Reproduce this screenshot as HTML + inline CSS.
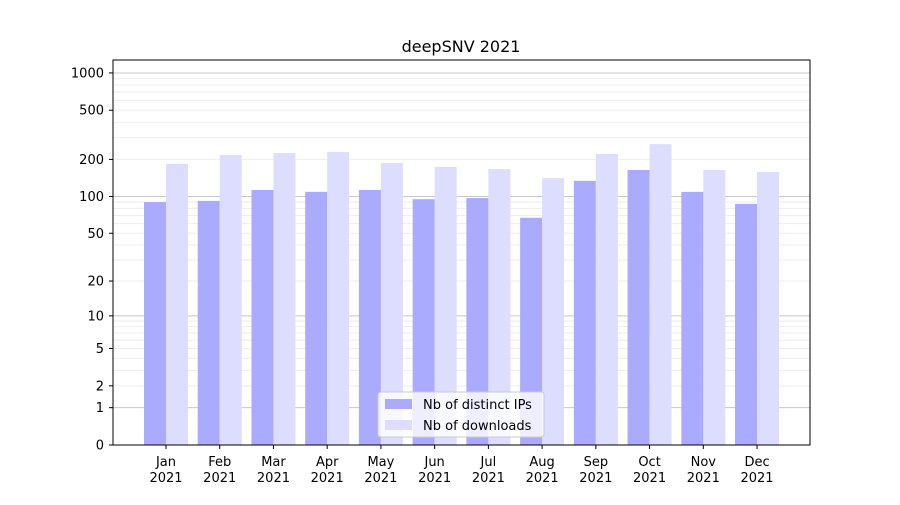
<!DOCTYPE html>
<html><head><meta charset="utf-8"><style>
body{margin:0;background:#fff;}
svg text{font-family:"DejaVu Sans","Liberation Sans",sans-serif;}
</style></head><body>
<svg id="chart" width="900" height="500" xmlns="http://www.w3.org/2000/svg">
<rect width="900" height="500" fill="#fff"/>
<g id="grid"></g>
<g id="bars"></g>
<rect x="113" y="60" width="697" height="385" fill="none" stroke="#000" stroke-width="1"/>
<g id="axes"></g>
<text x="461" y="52" text-anchor="middle" font-size="16">deepSNV 2021</text>
<g>
<rect x="378" y="392" width="166" height="45" rx="3" fill="#fff" fill-opacity="0.8" stroke="#ccc"/>
<rect x="385" y="399" width="27" height="10" fill="#aaaaff"/>
<text x="423" y="409" font-size="13">Nb of distinct IPs</text>
<rect x="385" y="420" width="27" height="10" fill="#ddddff"/>
<text x="423" y="430" font-size="13">Nb of downloads</text>
</g>
</svg>
<script>
const months=["Jan","Feb","Mar","Apr","May","Jun","Jul","Aug","Sep","Oct","Nov","Dec"];
const ips=[90,92,113,109,113,95,97,67,134,164,109,87];
const downloads=[184,217,225,230,187,174,167,141,221,266,164,158];
const yTicks=[0,1,2,5,10,20,50,100,200,500,1000];
const NS="http://www.w3.org/2000/svg";
function y(v){return 445-124*Math.log10(1+v);}
function xc(i){return 166+i*53.73;}
function mk(tag,attrs,parent,text){const e=document.createElementNS(NS,tag);for(const k in attrs)e.setAttribute(k,attrs[k]);if(text!==undefined)e.textContent=text;parent.appendChild(e);return e;}
const grid=document.getElementById('grid'),bars=document.getElementById('bars'),axes=document.getElementById('axes');
[1,10,100].forEach(d=>{for(let m=2;m<=9;m++){const v=d*m;const l=mk('line',{x1:113,x2:810,y1:y(v),y2:y(v),stroke:'#eeeeee','stroke-width':1},grid);

}});
[1,10,100,1000].forEach(v=>{const l=mk('line',{x1:113,x2:810,y1:y(v),y2:y(v),stroke:'#c8c8c8','stroke-width':1},grid);

});
months.forEach((m,i)=>{
const a=mk('rect',{x:xc(i)-22,y:y(ips[i]),width:22,height:445-y(ips[i]),fill:'#aaaaff'},bars);


const b=mk('rect',{x:xc(i),y:y(downloads[i]),width:22,height:445-y(downloads[i]),fill:'#ddddff'},bars);


mk('line',{x1:xc(i),x2:xc(i),y1:445,y2:449,stroke:'#000'},axes);
const t=mk('text',{x:xc(i),y:466,'text-anchor':'middle','font-size':13},axes,m);


const t2=mk('text',{x:xc(i),y:482,'text-anchor':'middle','font-size':13},axes,'2021');


});
yTicks.forEach(v=>{mk('line',{x1:109,x2:113,y1:y(v),y2:y(v),stroke:'#000'},axes);
const t=mk('text',{x:104,y:y(v)+4.5,'text-anchor':'end','font-size':13},axes,String(v));

});
</script>
</body></html>
